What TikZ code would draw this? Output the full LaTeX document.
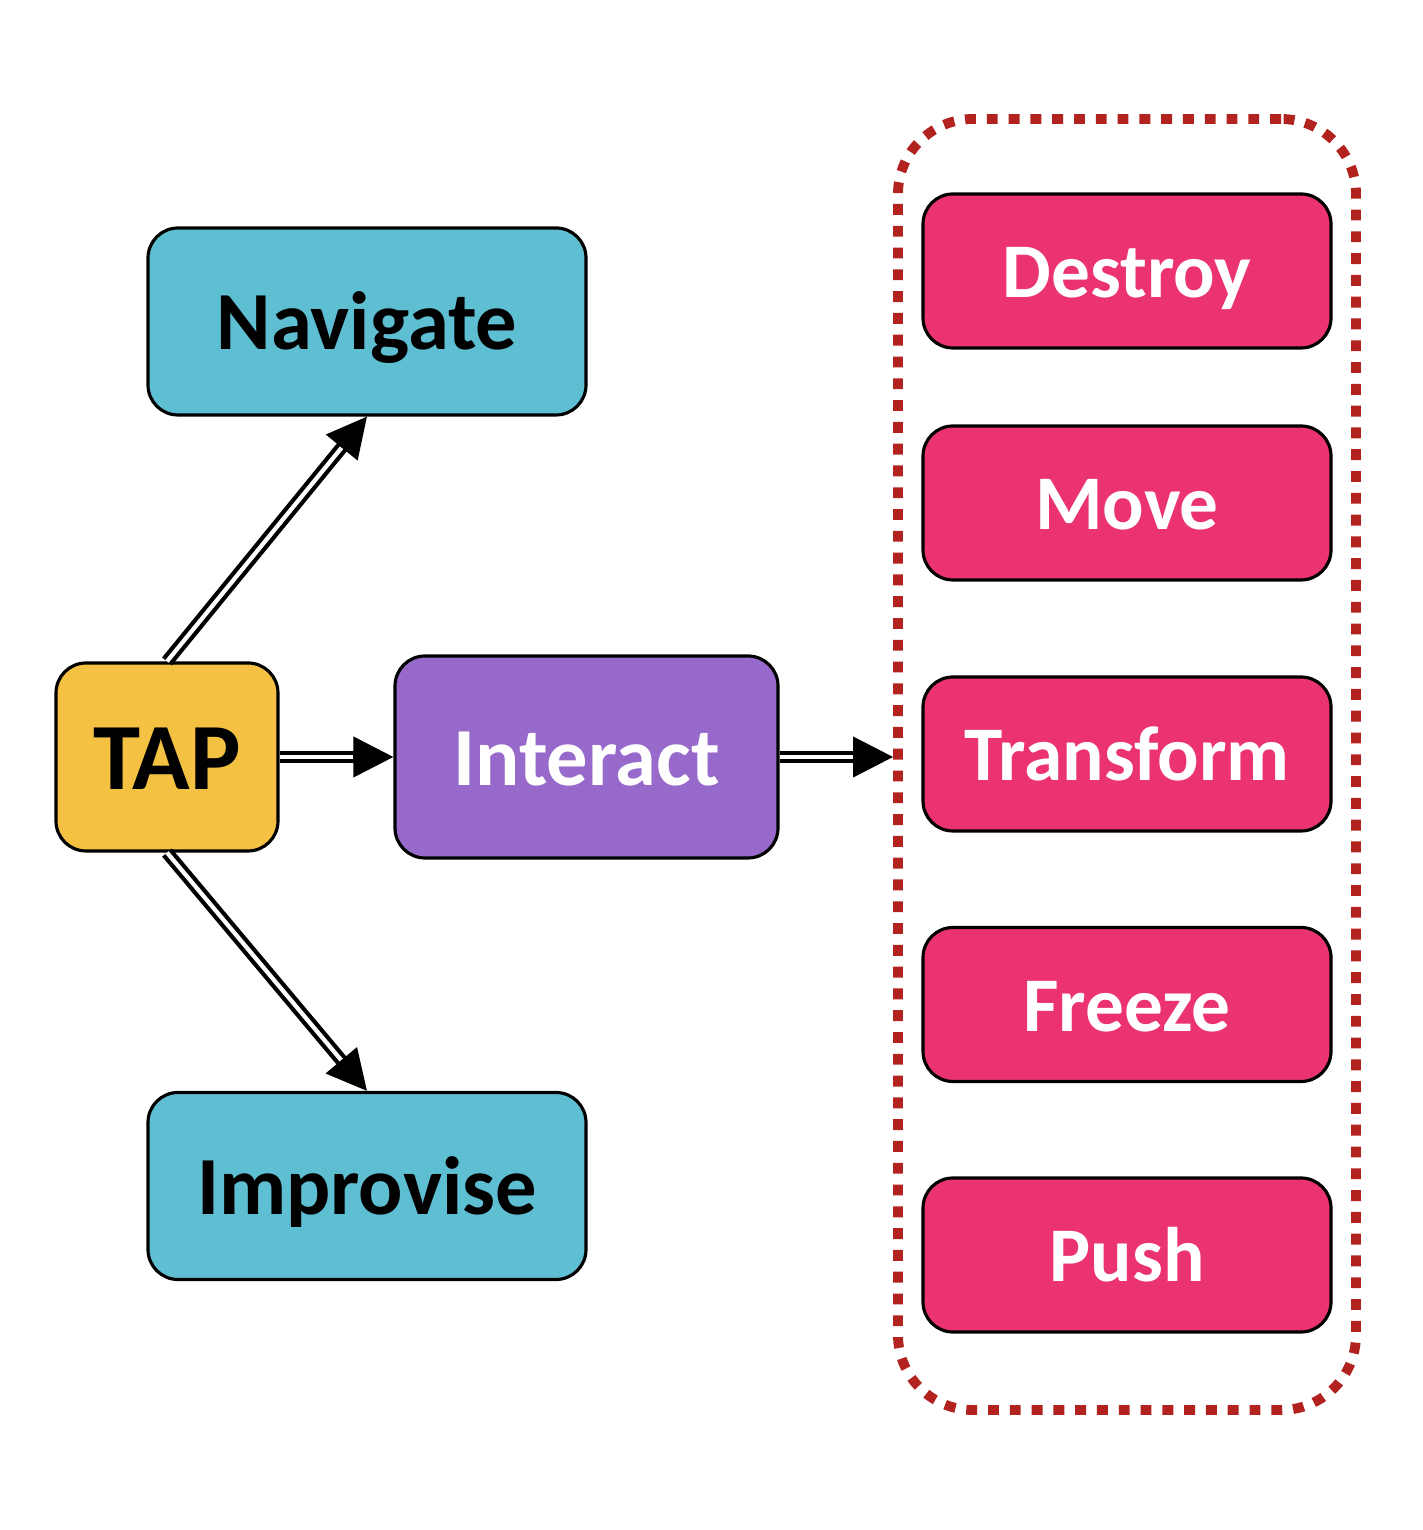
\documentclass[tikz,border=0pt]{standalone}
\usepackage{fontspec}
\setmainfont{Carlito}
\usepackage{tikz}
\usetikzlibrary{arrows.meta,calc}

\definecolor{navcol}{RGB}{94,190,210}
\definecolor{tapcol}{RGB}{244,193,66}
\definecolor{intcol}{RGB}{150,105,203}
\definecolor{actcol}{RGB}{236,51,114}
\definecolor{framecol}{RGB}{178,34,30}

\tikzset{
  box/.style={draw=black, line width=0.9pt, rounded corners=0.3cm, inner sep=0pt, text depth=0pt},
  mode/.style={box, fill=navcol, minimum width=4.38cm, minimum height=1.87cm, text height=16.2pt, font=\fontsize{23.5}{28}\selectfont\bfseries},
  act/.style={box, fill=actcol, text=white, minimum width=4.08cm, minimum height=1.54cm, text height=15.2pt, font=\fontsize{22}{26}\selectfont\bfseries},
  grpframe/.style={draw=framecol, line width=2.8pt, dash pattern=on 3.1pt off 3.1pt, rounded corners=0.75cm, inner sep=0pt},
  dbl/.style={draw=black, double=white, line width=1.2pt, double distance=1.2pt, shorten >=3.8mm},
  tipline/.style={line width=1.2pt, -{Triangle[length=4mm,width=4mm]}}
}

\begin{document}
\begin{tikzpicture}
    \useasboundingbox (0,0) rectangle (14.22,15.30);
    % Left side: the start and its three modes
    \node[box, fill=tapcol, minimum width=2.22cm, minimum height=1.88cm, text height=18.6pt, font=\fontsize{27}{32}\selectfont\bfseries] (tap) at (1.67,7.73) {TAP};
    \node[mode] (nav) at (3.67,12.085) {Navigate};
    \node[mode] (impro) at (3.67,3.44) {Improvise};
    \node[box, fill=intcol, text=white, minimum width=3.83cm, minimum height=2.02cm, text height=16.2pt, font=\fontsize{23.5}{28}\selectfont\bfseries] (interact) at (5.865,7.73) {Interact};
    % Dotted group with the actions
    \node[grpframe, minimum width=4.58cm, minimum height=12.91cm] (grp) at (11.27,7.655) {};
    \foreach \name/\y/\txt in {destroy/12.59/Destroy, move/10.27/Move, transform/7.76/Transform, freeze/5.255/Freeze, push/2.75/Push}{
      \node[act] (\name) at (11.27,\y) {\txt};
    }
    \coordinate (grpin) at (interact.east -| grp.west);
    % Double arrows
    \foreach \a/\b in {tap.north/nav.south, tap.south/impro.north, tap.east/interact.west, interact.east/grpin}{
      \draw[dbl] (\a) -- (\b);
      \draw[tipline] ($(\b)!4mm!(\a)$) -- (\b);
    }
\end{tikzpicture}
\end{document}
